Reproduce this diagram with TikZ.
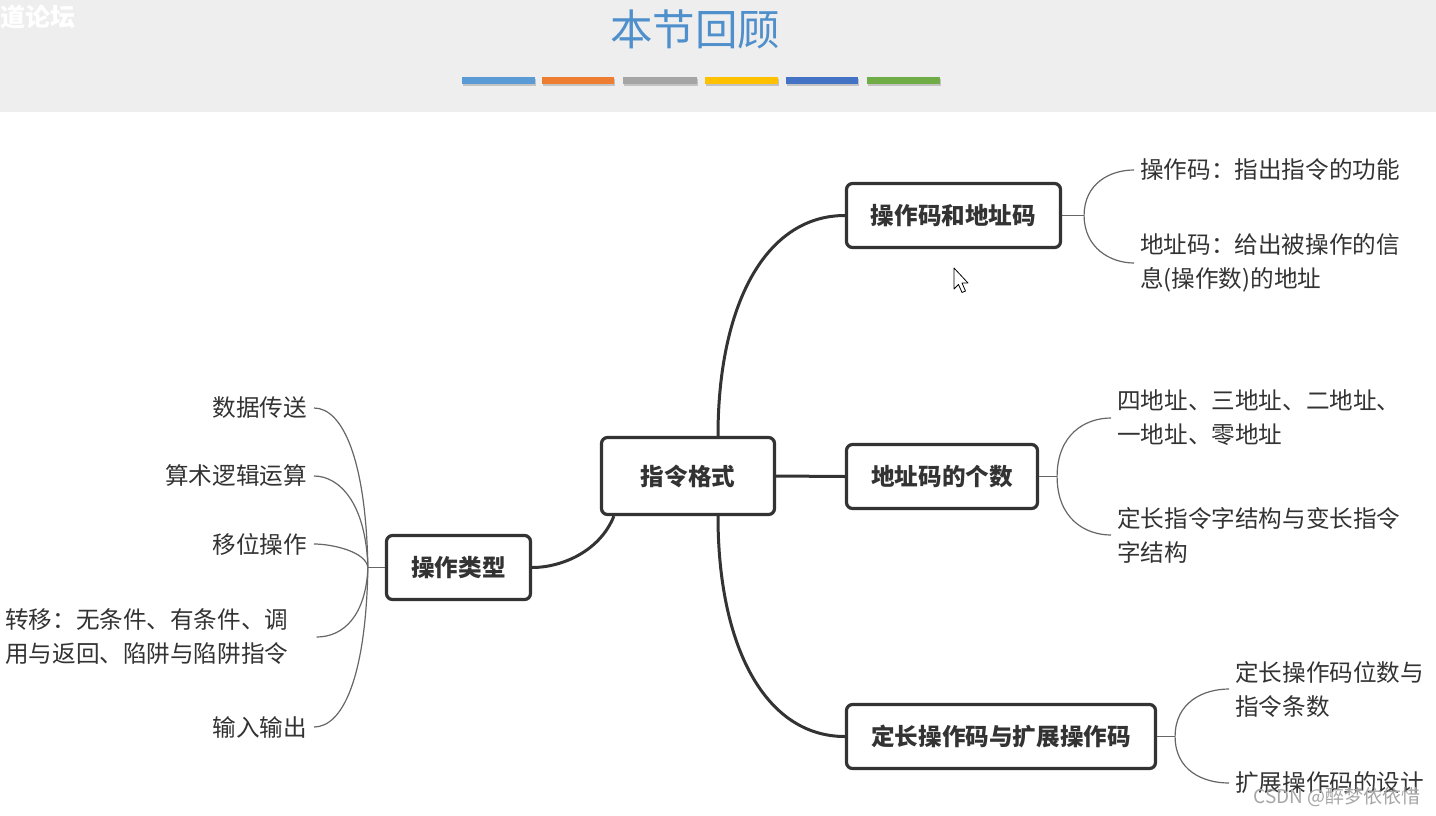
\documentclass[tikz,border=0pt]{standalone}
\usepackage{fontspec}
\setmainfont{Noto Sans CJK SC}
\definecolor{boxc}{HTML}{333333}
\definecolor{txtc}{HTML}{333333}
\definecolor{linec}{HTML}{666666}
\definecolor{titlec}{HTML}{4F8FCB}
\definecolor{hdr}{HTML}{EEEEEE}
\definecolor{barA}{HTML}{5B9BD5}
\definecolor{barB}{HTML}{ED7D31}
\definecolor{barC}{HTML}{A5A5A5}
\definecolor{barD}{HTML}{FFC000}
\definecolor{barE}{HTML}{4472C4}
\definecolor{barF}{HTML}{70AD47}
\begin{document}
\begin{tikzpicture}[x=1pt,y=-1pt,
  box/.style={draw=boxc, line width=3.2pt, rounded corners=6pt, fill=white, align=center,
    font=\fontsize{23.6}{27}\selectfont\bfseries, text=txtc, inner sep=0pt},
  leaf/.style={inner sep=0pt, align=left, font=\fontsize{23.6}{34}\selectfont, text=txtc},
  main/.style={draw=boxc, line width=3pt},
  thin/.style={draw=linec, line width=1.2pt},
  bar/.style={line width=0pt}]
\useasboundingbox (0,0) rectangle (1436,815);
\fill[white] (0,0) rectangle (1436,815);
% header
\fill[hdr] (0,0) rectangle (1436,112);
\node[anchor=west, inner sep=0pt, text=white, font=\fontsize{25}{28}\selectfont\bfseries] (wm) at (0,17) {道论坛};
\node[text=titlec, font=\fontsize{42.5}{48}\selectfont] (title) at (695,29) {本节回顾};
\foreach \xa/\xb/\c in {462/535/barA, 542/614/barB, 623/697/barC, 705/778/barD, 786/858/barE, 867/940/barF}{
  \fill[black, opacity=0.18] (\xa+1,79) rectangle (\xb+1,86);
  \fill[\c] (\xa,77) rectangle (\xb,84);
}
% main nodes
\node[box, minimum width=173pt, minimum height=77pt] (fmt) at (688,476) {指令格式};
\node[box, minimum width=214pt, minimum height=64pt] (oa) at (953.5,215.5) {操作码和地址码};
\node[box, minimum width=191pt, minimum height=64pt] (ac) at (942,476.5) {地址码的个数};
\node[box, minimum width=309pt, minimum height=64pt] (fe) at (1001,736.5) {定长操作码与扩展操作码};
\node[box, minimum width=144pt, minimum height=64pt] (ot) at (458.5,567.5) {操作类型};
% leaves right
\node[leaf, anchor=west] (l11) at (1140,170) {操作码：指出指令的功能};
\node[leaf, anchor=west] (l12) at (1140,263) {地址码：给出被操作的信\\息(操作数)的地址};
\node[leaf, anchor=west] (l21) at (1117,418) {四地址、三地址、二地址、\\一地址、零地址};
\node[leaf, anchor=west] (l22) at (1117,535) {定长指令字结构与变长指令\\字结构};
\node[leaf, anchor=west] (l31) at (1235,689) {定长操作码位数与\\指令条数};
\node[leaf, anchor=west] (l32) at (1235,783) {扩展操作码的设计};
% leaves left
\node[leaf, anchor=east] (r1) at (307,408) {数据传送};
\node[leaf, anchor=east] (r2) at (307,476) {算术逻辑运算};
\node[leaf, anchor=east] (r3) at (307,544) {移位操作};
\node[leaf, anchor=west] (r4) at (5,637) {转移：无条件、有条件、调\\用与返回、陷阱与陷阱指令};
\node[leaf, anchor=east] (r5) at (307,727) {输入输出};
% main connectors
\draw[main] ([xshift=30pt]fmt.north) .. controls ([shift={(30,-130)}]fmt.north) and ([shift={(-80,0)}]oa.west) .. (oa.west);
\draw[main] (fmt.east) -- (ac.west);
\draw[main] ([xshift=30pt]fmt.south) .. controls ([shift={(30,130)}]fmt.south) and ([shift={(-80,0)}]fe.west) .. (fe.west);
\draw[main] ([xshift=14pt]fmt.south west) .. controls ([shift={(0,35)}]fmt.south west) and ([shift={(30,0)}]ot.east) .. (ot.east);
% right branches
\coordinate (j1) at ([xshift=22pt]oa.east);
\draw[thin] (oa.east) -- (j1);
\draw[thin] (j1) .. controls ([shift={(0,-32)}]j1) and ([shift={(-30,0)}]l11.west) .. ([xshift=-6pt]l11.west);
\draw[thin] (j1) .. controls ([shift={(0,32)}]j1) and ([shift={(-30,0)}]l12.west) .. ([xshift=-6pt]l12.west);
\coordinate (j2) at ([xshift=18pt]ac.east);
\draw[thin] (ac.east) -- (j2);
\draw[thin] (j2) .. controls ([shift={(0,-42)}]j2) and ([shift={(-32,0)}]l21.west) .. ([xshift=-6pt]l21.west);
\draw[thin] (j2) .. controls ([shift={(0,42)}]j2) and ([shift={(-32,0)}]l22.west) .. ([xshift=-6pt]l22.west);
\coordinate (j3) at ([xshift=18pt]fe.east);
\draw[thin] (fe.east) -- (j3);
\draw[thin] (j3) .. controls ([shift={(0,-34)}]j3) and ([shift={(-32,0)}]l31.west) .. ([xshift=-6pt]l31.west);
\draw[thin] (j3) .. controls ([shift={(0,34)}]j3) and ([shift={(-32,0)}]l32.west) .. ([xshift=-6pt]l32.west);
% left branches
\coordinate (jL) at ([xshift=-17pt]ot.west);
\draw[thin] (ot.west) -- (jL);
\draw[thin] (jL) .. controls ([shift={(-2,-110)}]jL) and ([shift={(35,0)}]r1.east) .. ([xshift=7pt]r1.east);
\draw[thin] (jL) .. controls ([shift={(-2,-65)}]jL) and ([shift={(32,0)}]r2.east) .. ([xshift=7pt]r2.east);
\draw[thin] (jL) .. controls ([shift={(-2,-16)}]jL) and ([shift={(25,0)}]r3.east) .. ([xshift=7pt]r3.east);
\draw[thin] (jL) .. controls ([shift={(-2,48)}]jL) and ([shift={(55,0)}]r4.east) .. ([xshift=28pt]r4.east);
\draw[thin] (jL) .. controls ([shift={(-2,112)}]jL) and ([shift={(35,0)}]r5.east) .. ([xshift=7pt]r5.east);
% mouse cursor
\filldraw[fill=white, draw=black, line width=0.8pt, line join=round]
  (954,268) -- (954,289) -- (958.5,284.5) -- (962,292.5) -- (965.5,291) -- (962,283) -- (968,283) -- cycle;
% watermark
\node[anchor=east, inner sep=0pt, text=black!35, font=\fontsize{19}{22}\selectfont] (csdn) at (1421,797) {CSDN @醉梦依依惜};
\end{tikzpicture}
\end{document}
